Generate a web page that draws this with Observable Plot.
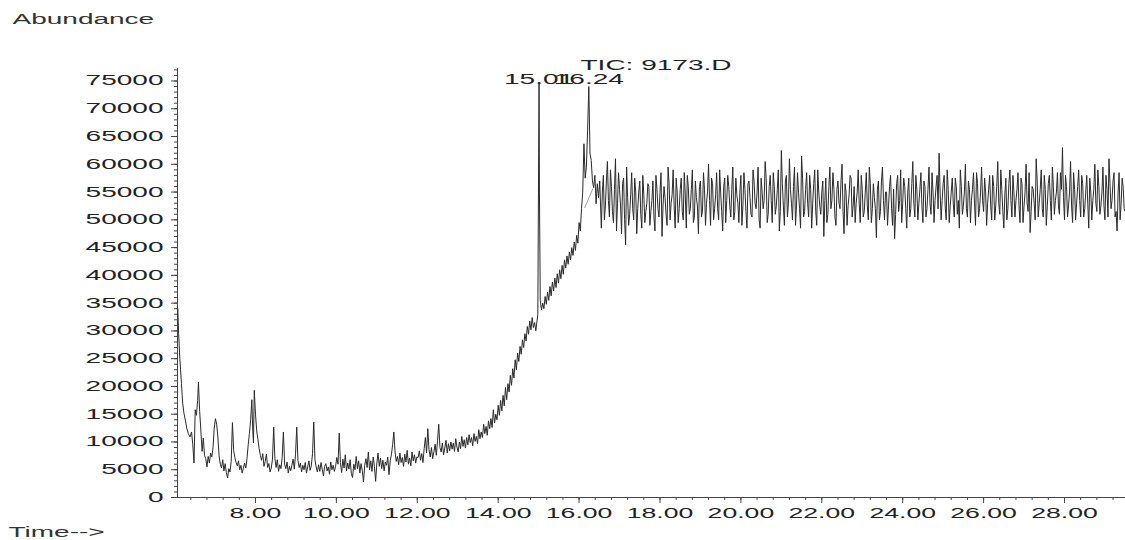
<!DOCTYPE html>
<html>
<head>
<meta charset="utf-8">
<script src="https://cdn.jsdelivr.net/npm/d3@7"></script>
<script src="https://cdn.jsdelivr.net/npm/@observablehq/plot@0.6"></script>
<style>
  html, body { margin: 0; padding: 0; background: #fff; }
  #chart svg { display: block; }
</style>
</head>
<body>
<div id="chart"></div>
<script>
// Total ion chromatogram of run 9173.D: [retention time (min), abundance]
const earlyScans = [
  [6.08,34000],[6.10,29500],[6.13,25000],[6.17,20500],[6.20,17000],[6.23,15200],[6.27,13800],[6.30,12500],
  [6.34,11500],[6.38,10900],[6.42,11800],[6.45,9500],[6.48,6200],[6.51,15800],[6.54,14800],[6.57,17500],
  [6.59,20800],[6.62,15500],[6.65,12000],[6.68,8300],[6.71,10700],[6.74,7600],[6.77,7000],[6.80,5500],
  [6.83,7400],[6.86,6200],[6.89,8000],[6.92,7300],[6.95,9000],[6.98,12500],[7.01,14200],[7.04,13200],
  [7.07,10900],[7.10,7500],[7.13,6000],[7.16,5300],[7.19,6800],[7.22,4800],[7.25,6100],[7.28,4500],
  [7.31,3500],[7.34,5200],[7.37,4600],[7.40,6500],[7.43,13500],[7.46,8500],[7.49,7200],[7.52,6300],
  [7.55,5700],[7.58,6600],[7.61,5000],[7.64,5800],[7.67,4400],[7.70,5200],[7.73,6200],[7.76,5300],
  [7.79,7000],[7.82,9500],[7.85,11500],[7.88,14000],[7.91,17600],[7.93,12500],[7.95,9800],[7.97,19300],
  [8.00,15000],[8.03,12000],[8.06,10500],[8.09,8800],[8.12,7600],[8.15,6700],[8.18,7900],[8.21,5600],
  [8.24,6500],[8.27,7800],[8.30,5400],[8.33,6100],[8.36,4600],[8.39,5300],[8.42,6900],[8.45,12700],
  [8.48,7000],[8.51,5400],[8.54,6800],[8.57,4700],[8.60,5900],[8.63,5200],[8.66,7200],[8.69,11800],
  [8.72,6000],[8.75,5200],[8.78,6400],[8.81,4400],[8.84,5600],[8.87,4800],[8.90,5800],[8.93,6900],
  [8.96,5100],[8.99,7800],[9.02,12700],[9.05,6600],[9.08,5400],[9.11,6200],[9.14,4600],[9.17,5800],
  [9.20,5000],[9.23,6300],[9.26,4400],[9.29,5500],[9.32,6600],[9.35,4900],[9.38,5700],[9.41,7900],
  [9.44,13600],[9.47,6800],[9.50,5500],[9.53,4600],[9.56,5900],[9.59,4700],[9.62,6300],[9.65,5100],
  [9.68,3900],[9.71,5600],[9.74,6100],[9.77,4800],[9.80,5500],[9.83,4200],[9.86,6400],[9.89,5000],
  [9.92,5800],[9.95,4700],[9.98,5600],[10.01,7200],[10.04,6000],[10.07,11600],[10.10,6300],[10.13,4500],
  [10.16,6900],[10.19,5300],[10.22,7700],[10.25,4800],[10.28,6200],[10.31,5100],[10.34,6800],[10.37,4300],
  [10.40,3600],[10.43,6000],[10.46,5000],[10.49,7400],[10.52,5200],[10.55,6600],[10.58,4400],[10.61,6100],
  [10.64,4900],[10.67,2800],[10.70,5800],[10.73,7000],[10.76,5400],[10.79,8200],[10.82,5000],[10.85,6600],
  [10.88,4700],[10.91,7300],[10.94,5600],[10.97,2900],[11.00,6200],[11.03,8000],[11.06,5600],[11.09,7100],
  [11.12,5200],[11.15,6700],[11.18,4800],[11.21,6400],[11.24,5800],[11.27,7300],[11.30,4100],[11.33,6600],
  [11.36,7700],[11.39,9500],[11.42,11800],[11.45,8200],[11.48,6500],[11.51,7400],[11.54,5900],[11.57,8000],
  [11.60,6300],[11.63,7200],[11.66,5600],[11.69,7800],[11.72,6400],[11.75,8500],[11.78,6000],[11.81,7100],
  [11.84,5700],[11.87,8200],[11.90,6600],[11.93,7700],[11.96,6200],[11.99,7300]
];

const risingScans = [
  [12.02,7200],[12.05,8400],[12.08,6700],[12.11,7900],[12.14,6300],[12.17,8800],[12.20,10800],[12.23,8000],
  [12.26,12400],[12.29,8600],[12.32,7300],[12.35,9000],[12.38,7000],[12.41,8200],[12.44,9600],[12.47,7600],
  [12.50,10200],[12.53,13200],[12.56,9000],[12.59,8200],[12.62,9800],[12.65,7700],[12.68,8900],[12.71,10300],
  [12.74,8000],[12.77,9700],[12.80,8400],[12.83,10000],[12.86,8700],[12.89,9800],[12.92,8300],[12.95,10600],
  [12.98,9100],[13.01,8200],[13.04,10000],[13.07,8800],[13.10,11000],[13.13,9200],[13.16,10400],[13.19,8900],
  [13.22,10800],[13.25,9500],[13.28,11300],[13.31,9900],[13.34,10800],[13.37,9300],[13.40,11500],[13.43,10100],
  [13.46,11000],[13.49,9700],[13.52,12200],[13.55,10600],[13.58,11800],[13.61,10800],[13.64,13200],[13.67,11500],
  [13.70,12800],[13.73,11200],[13.76,13800],[13.79,12400],[13.82,14200],[13.85,12600],[13.88,15800],[13.91,13400],
  [13.94,15000],[13.97,14000],[14.00,16600],[14.03,14800],[14.06,17500],[14.09,15600],[14.12,18400],[14.15,16500],
  [14.18,19800],[14.21,17600],[14.24,20500],[14.27,19000],[14.30,22000],[14.33,20200],[14.36,23200],[14.39,21500],
  [14.42,24800],[14.45,23000],[14.48,26000],[14.51,24500],[14.54,27200],[14.57,25800],[14.60,28400],[14.63,27000],
  [14.66,29500],[14.69,28200],[14.72,30800],[14.75,29400],[14.78,31800],[14.81,30200],[14.84,32400],[14.87,30600],
  [14.90,31500],[14.93,30000],[14.96,31800],[14.98,33000],[15.00,62000],[15.01,74800],[15.02,55000],[15.04,35500],
  [15.07,33800],[15.10,35000],[15.13,34000],[15.16,36200],[15.19,34800],[15.22,37000],[15.25,35500],[15.28,38000],
  [15.31,36300],[15.34,38800],[15.37,37200],[15.40,39500],[15.43,37800],[15.46,40300],[15.49,38600],[15.52,41000],
  [15.55,39400],[15.58,41800],[15.61,40200],[15.64,42800],[15.67,41300],[15.70,43500],[15.73,42000],[15.76,44200],
  [15.79,42800],[15.82,45000],[15.85,43600],[15.88,46000],[15.91,44500],[15.94,47200],[15.97,45800],[16.00,49500],
  [16.03,48000],[16.06,52000],[16.09,55000],[16.12,63700],[16.15,57500],[16.18,59500],[16.21,66000],[16.24,74000],
  [16.27,62000],[16.30,60700],[16.33,57000],[16.36,55800],[16.39,58000],[16.42,52900],[16.45,56500],[16.48,54000],
  [16.51,57000]
];

const plateauScans = [
  [16.55,48500],[16.60,58000],[16.65,52500],[16.70,60500],[16.75,50500],[16.80,56000],[16.85,49500],[16.90,61000],
  [16.95,53000],[17.00,55500],[17.05,47500],[17.10,57500],[17.15,45500],[17.20,54000],[17.25,51000],[17.30,58500],
  [17.35,50000],[17.40,55000],[17.45,52000],[17.50,57000],[17.55,48500],[17.60,54500],[17.65,51500],[17.70,56500],
  [17.75,49000],[17.80,53500],[17.85,50500],[17.90,58000],[17.95,52000],[18.00,55000],[18.05,47000],[18.10,56000],
  [18.15,51000],[18.20,59500],[18.25,50000],[18.30,54500],[18.35,52500],[18.40,57500],[18.45,49500],[18.50,55500],
  [18.55,51500],[18.60,58500],[18.65,48500],[18.70,56000],[18.75,52000],[18.80,59000],[18.85,50500],[18.90,54000],
  [18.95,47500],[19.00,57000],[19.05,51500],[19.10,55500],[19.15,53000],[19.20,60000],[19.25,49000],[19.30,56500],
  [19.35,52000],[19.40,58500],[19.45,50000],[19.50,55000],[19.55,48000],[19.60,57500],[19.65,53500],[19.70,56000],
  [19.75,50500],[19.80,59500],[19.85,51500],[19.90,54500],[19.95,49500],[20.00,58000],[20.05,52500],[20.10,55500],
  [20.15,48500],[20.20,57000],[20.25,51000],[20.30,59000],[20.35,53000],[20.40,55000],[20.45,50000],[20.50,57500],
  [20.55,52000],[20.60,60500],[20.65,49500],[20.70,56000],[20.75,53500],[20.80,58500],[20.85,51000],[20.90,55500],
  [20.95,48000],[21.00,62500],[21.05,52500],[21.10,57000],[21.15,50500],[21.20,61000],[21.25,53000],[21.30,56000],
  [21.35,49000],[21.40,58500],[21.45,52000],[21.50,61500],[21.55,50500],[21.60,55500],[21.65,53000],[21.70,58000],
  [21.75,48500],[21.80,56500],[21.85,51500],[21.90,59000],[21.95,52500],[22.00,55000],[22.05,47000],[22.10,57500],
  [22.15,51000],[22.20,59500],[22.25,53500],[22.30,55500],[22.35,49000],[22.40,57000],[22.45,52000],[22.50,60000],
  [22.55,47500],[22.60,55000],[22.65,52500],[22.70,58000],[22.75,50500],[22.80,56000],[22.85,53000],[22.90,59000],
  [22.95,49500],[23.00,55500],[23.05,51500],[23.10,58500],[23.15,50000],[23.20,56500],[23.25,52000],[23.30,54000],
  [23.35,46800],[23.40,57000],[23.45,51500],[23.50,59500],[23.55,50000],[23.60,55000],[23.65,52500],[23.70,58000],
  [23.75,49000],[23.80,46600],[23.85,56500],[23.90,51500],[23.95,59000],[24.00,53000],[24.05,56000],[24.10,48500],
  [24.15,57500],[24.20,52000],[24.25,60500],[24.30,50500],[24.35,55500],[24.40,53000],[24.45,58500],[24.50,49500],
  [24.55,56000],[24.60,52000],[24.65,59500],[24.70,51000],[24.75,55000],[24.80,53500],[24.85,58000],[24.90,62000],
  [24.95,50000],[25.00,56500],[25.05,52500],[25.10,59000],[25.15,49500],[25.20,55000],[25.25,53000],[25.30,57500],
  [25.35,51000],[25.40,48500],[25.45,56000],[25.50,52500],[25.55,60000],[25.60,50500],[25.65,55500],[25.70,53500],
  [25.75,58500],[25.80,49000],[25.85,56500],[25.90,52000],[25.95,59500],[26.00,51500],[26.05,55000],[26.10,53000],
  [26.15,58000],[26.20,50000],[26.25,56000],[26.30,52500],[26.35,60500],[26.40,51000],[26.45,55500],[26.50,48500],
  [26.55,57500],[26.60,52000],[26.65,59000],[26.70,50500],[26.75,55000],[26.80,53500],[26.85,58500],[26.90,49500],
  [26.95,56500],[27.00,52500],[27.05,60000],[27.10,51500],[27.15,47700],[27.20,56000],[27.25,53000],[27.30,61000],
  [27.35,50500],[27.40,55500],[27.45,52000],[27.50,58000],[27.55,49000],[27.60,56500],[27.65,53500],[27.70,59500],
  [27.75,51000],[27.80,55000],[27.85,52500],[27.90,58500],[27.95,63000],[28.00,50000],[28.05,56000],[28.10,52500],
  [28.15,60500],[28.20,49500],[28.25,55500],[28.30,53000],[28.35,59000],[28.40,50500],[28.45,56500],[28.50,52000],
  [28.55,58000],[28.60,48500],[28.65,55000],[28.70,53500],[28.75,60000],[28.80,51500],[28.85,56000],[28.90,52500],
  [28.95,59500],[29.00,50000],[29.05,55500],[29.10,61000],[29.15,52000],[29.20,57000],[29.25,50500],[29.30,48000],
  [29.35,58500],[29.40,53000],[29.45,56000],[29.50,51500]
];

// Interleaved scans of the plateau (alternate scan cycle)
const plateauScansB = [
  [16.575,55000],[16.625,50000],[16.675,57000],[16.725,53500],[16.775,59000],[16.825,51500],[16.875,55500],[16.925,48000],
  [16.975,58500],[17.025,52500],[17.075,56500],[17.125,50000],[17.175,59500],[17.225,49000],[17.275,54500],[17.325,52000],
  [17.375,57500],[17.425,47500],[17.475,55000],[17.525,51000],[17.575,58000],[17.625,49500],[17.675,53000],[17.725,56000],
  [17.775,51500],[17.825,57000],[17.875,48000],[17.925,55500],[17.975,50500],[18.025,58500],[18.075,52500],[18.125,54000],
  [18.175,49000],[18.225,56500],[18.275,53000],[18.325,59000],[18.375,48500],[18.425,55000],[18.475,52000],[18.525,57500],
  [18.575,50000],[18.625,54500],[18.675,58000],[18.725,51000],[18.775,55500],[18.825,49500],[18.875,57000],[18.925,52500],
  [18.975,56000],[19.025,50500],[19.075,58500],[19.125,49000],[19.175,55000],[19.225,53500],[19.275,57500],[19.325,50000],
  [19.375,54500],[19.425,52000],[19.475,59000],[19.525,51500],[19.575,56000],[19.625,49500],[19.675,58000],[19.725,52500],
  [19.775,55500],[19.825,50000],[19.875,57500],[19.925,53000],[19.975,55000],[20.025,49000],[20.075,58500],[20.125,51500],
  [20.175,56500],[20.225,54000],[20.275,50500],[20.325,57000],[20.375,52000],[20.425,59500],[20.475,48500],[20.525,55000],
  [20.575,53500],[20.625,57500],[20.675,51000],[20.725,58000],[20.775,49500],[20.825,56000],[20.875,52500],[20.925,59000],
  [20.975,51500],[21.025,56500],[21.075,49000],[21.125,58000],[21.175,53000],[21.225,55500],[21.275,50000],[21.325,59500],
  [21.375,52500],[21.425,55000],[21.475,48500],[21.525,57500],[21.575,51500],[21.625,58500],[21.675,50500],[21.725,55500],
  [21.775,53000],[21.825,59000],[21.875,49000],[21.925,55000],[21.975,51000],[22.025,57000],[22.075,53500],[22.125,49500],
  [22.175,56000],[22.225,52000],[22.275,58500],[22.325,50500],[22.375,55500],[22.425,53000],[22.475,57000],[22.525,51500],
  [22.575,56500],[22.625,49000],[22.675,54500],[22.725,57500],[22.775,52500],[22.825,49500],[22.875,55000],[22.925,53000],
  [22.975,58000],[23.025,50500],[23.075,55000],[23.125,52500],[23.175,59500],[23.225,49500],[23.275,56500],[23.325,52000],
  [23.375,55500],[23.425,50000],[23.475,57000],[23.525,53500],[23.575,55000],[23.625,49000],[23.675,56000],[23.725,52000],
  [23.775,55500],[23.825,51000],[23.875,58000],[23.925,53500],[23.975,49500],[24.025,57500],[24.075,52000],[24.125,55000],
  [24.175,50500],[24.225,56500],[24.275,53000],[24.325,58000],[24.375,50000],[24.425,55500],[24.475,52500],[24.525,57000],
  [24.575,50500],[24.625,55500],[24.675,53000],[24.725,58500],[24.775,49500],[24.825,56000],[24.875,52000],[24.925,55000],
  [24.975,53500],[25.025,58000],[25.075,50000],[25.125,55500],[25.175,52500],[25.225,57500],[25.275,50500],[25.325,56000],
  [25.375,53500],[25.425,59000],[25.475,51000],[25.525,55000],[25.575,52000],[25.625,57000],[25.675,49500],[25.725,55500],
  [25.775,53000],[25.825,58500],[25.875,50500],[25.925,55000],[25.975,53500],[26.025,57500],[26.075,49000],[26.125,55500],
  [26.175,52500],[26.225,58000],[26.275,50000],[26.325,56000],[26.375,53000],[26.425,59000],[26.475,51500],[26.525,54500],
  [26.575,50000],[26.625,56500],[26.675,53500],[26.725,58000],[26.775,50500],[26.825,55500],[26.875,52500],[26.925,57500],
  [26.975,49500],[27.025,55000],[27.075,53000],[27.125,58500],[27.175,51500],[27.225,55500],[27.275,50000],[27.325,57000],
  [27.375,53000],[27.425,59000],[27.475,50500],[27.525,55500],[27.575,52500],[27.625,58000],[27.675,50000],[27.725,56000],
  [27.775,53500],[27.825,58500],[27.875,51000],[27.925,55500],[27.975,54000],[28.025,58000],[28.075,50500],[28.125,55000],
  [28.175,52500],[28.225,58500],[28.275,50000],[28.325,56000],[28.375,53500],[28.425,58000],[28.475,50500],[28.525,55000],
  [28.575,53000],[28.625,57500],[28.675,50000],[28.725,55500],[28.775,53000],[28.825,59000],[28.875,51000],[28.925,55000],
  [28.975,52500],[29.025,58000],[29.075,50500],[29.125,56500],[29.175,53500],[29.225,58500],[29.275,51500],[29.325,55000],
  [29.375,50000],[29.425,57500],[29.475,52000]
];

// Integration baseline drawn under the 16.24 peak
const integrationBaseline = [[16.14, 52200], [16.34, 55600]];

const peakLabels = [
  { time: 15.01, label: "15.01" },
  { time: 16.24, label: "16.24" }
];

const abundanceTicks = [0, 5000, 10000, 15000, 20000, 25000, 30000, 35000, 40000, 45000, 50000, 55000, 60000, 65000, 70000, 75000];
const timeTicks = [8, 10, 12, 14, 16, 18, 20, 22, 24, 26, 28];
const fileTitle = "TIC: 9173.D";
const yTitle = "Abundance";
const xTitle = "Time-->";

const timeDomain = [6.072, 29.508];
const abundanceDomain = [0, 77250];

const toRow = ([time, abundance]) => ({ time, abundance });
const trace = d3.sort(
  [...earlyScans, ...risingScans, ...plateauScans, ...plateauScansB].map(toRow),
  d => d.time
);
const baselineRows = integrationBaseline.map(toRow);

const minorTime = d3.range(6.4, 29.5, 0.4);
const minorAbundance = d3.range(0, 77001, 1000);

const ink = "#222";

const chart = Plot.plot({
  width: 1125,
  height: 540,
  marginLeft: 177,
  marginRight: 0,
  marginTop: 68,
  marginBottom: 43,
  style: { fontFamily: "'Liberation Sans', Arial, Helvetica, sans-serif", fontSize: "14px", color: ink, background: "#fff", overflow: "visible" },
  x: { domain: timeDomain, label: null },
  y: { domain: abundanceDomain, label: null },
  marks: [
    Plot.axisY(minorAbundance, { tickSize: 3, tickFormat: () => "", label: null, stroke: "#444" }),
    Plot.axisY(abundanceTicks, { tickSize: 6, tickPadding: 8, tickFormat: d => String(d), label: null, fontSize: 14, stroke: "#444" }),
    Plot.axisX(minorTime, { tickSize: 3, tickFormat: () => "", label: null, stroke: "#444" }),
    Plot.axisX(timeTicks, { tickSize: 6, tickPadding: 5, tickFormat: d3.format(".2f"), label: null, fontSize: 14, stroke: "#444" }),
    Plot.ruleX([timeDomain[0]], { stroke: "#444" }),
    Plot.ruleY([0], { stroke: "#444" }),
    Plot.line(baselineRows, { x: "time", y: "abundance", stroke: "#9a9a9a", strokeWidth: 1 }),
    Plot.line(trace, { x: "time", y: "abundance", stroke: "#2a2a2a", strokeWidth: 1 }),
    Plot.text(peakLabels, { x: "time", text: "label", frameAnchor: "top", dy: 15, lineAnchor: "bottom", fill: ink, fontSize: 14, ariaLabel: "peak label" }),
    Plot.text([fileTitle], { frameAnchor: "top-left", dx: 403, dy: 1, lineAnchor: "bottom", textAnchor: "start", fill: ink, fontSize: 14 }),
    Plot.text([yTitle], { frameAnchor: "top-left", dx: -165, dy: -45, lineAnchor: "bottom", textAnchor: "start", fill: "#333", fontSize: 14 }),
    Plot.text([xTitle], { frameAnchor: "bottom-left", dx: -169, dy: 39, lineAnchor: "bottom", textAnchor: "start", fill: "#333", fontSize: 14 })
  ]
});

document.getElementById("chart").append(chart);

// The lettering of this instrument printout is set wide: stretch each label horizontally.
function widen(selector, factor) {
  chart.querySelectorAll(selector).forEach(t => {
    const w = t.getComputedTextLength();
    if (w > 0) {
      t.setAttribute("textLength", (w * factor).toFixed(1));
      t.setAttribute("lengthAdjust", "spacingAndGlyphs");
    }
  });
}
widen('g[aria-label="y-axis tick label"] text', 2.0);
widen('g[aria-label="x-axis tick label"] text', 1.9);
widen('g[aria-label="peak label"] text', 1.9);
widen('g[aria-label="text"] text', 2.0);
</script>
</body>
</html>
